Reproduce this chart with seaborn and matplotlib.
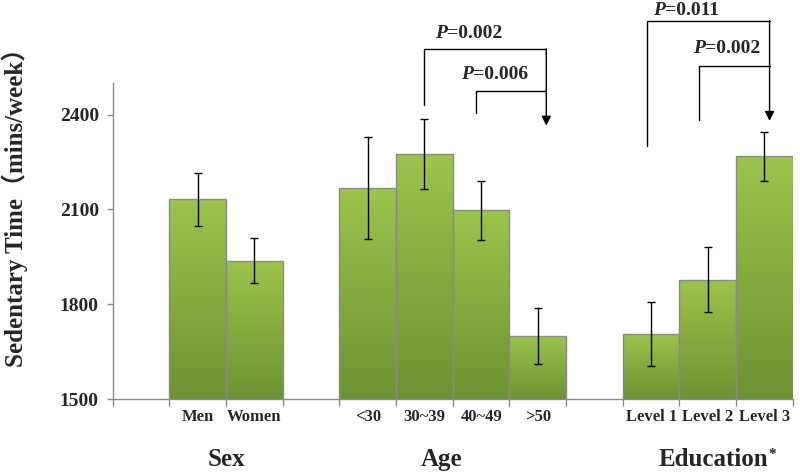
import numpy as np
import pandas as pd
import seaborn as sns
import matplotlib.pyplot as plt
from matplotlib.colors import LinearSegmentedColormap
from matplotlib.transforms import blended_transform_factory

# Bar categories, slot order (blank slots separate the groups)
labels = ['Men', 'Women', '<30', '30~39', '40~49', '>50', 'Level 1', 'Level 2', 'Level 3']
order = [' ', 'Men', 'Women', '  ', '<30', '30~39', '40~49', '>50', '   ', 'Level 1', 'Level 2', 'Level 3']
means = [2132, 1938, 2167, 2275, 2097, 1700, 1706, 1877, 2268]
errors = [83, 72, 162, 110, 94, 88, 102, 103, 78]

groups = ['Sex', 'Age', 'Education']
p_values = ['=0.002', '=0.006', '=0.011', '=0.002']

BAR_TOP = '#9dc44c'
BAR_BOTTOM = '#6d9232'
EDGE = '#8a8a8a'
SERIF = ['Liberation Serif', 'Noto Sans CJK SC', 'DejaVu Serif']

sns.set_style('white')
plt.rcParams['font.family'] = SERIF
plt.rcParams['font.weight'] = 'bold'

df = pd.DataFrame({'label': labels, 'mean': means, 'err': errors})

fig = plt.figure(figsize=(8, 4.74), dpi=100)
ax = fig.add_axes([0.141, 0.158, 0.85, 0.667])

sns.barplot(data=df, x='label', y='mean', order=order, errorbar=None, width=1.0,
            color=BAR_TOP, saturation=1, edgecolor=EDGE, linewidth=1, ax=ax)

# Excel-like vertical gradient on each bar
cmap = LinearSegmentedColormap.from_list('bar', [BAR_BOTTOM, BAR_TOP])
grad = np.linspace(0, 1, 256).reshape(-1, 1)
for patch in ax.patches:
    x0 = patch.get_x()
    x1 = x0 + patch.get_width()
    top = patch.get_height()
    im = ax.imshow(grad, cmap=cmap, origin='lower', aspect='auto',
                   extent=(x0, x1, 1500, top), zorder=1)
    im.set_clip_path(patch)
    patch.set_facecolor('none')
    patch.set_zorder(2)

# Error bars
xpos = [order.index(l) for l in df['label']]
ax.errorbar(xpos, df['mean'], yerr=df['err'], fmt='none', ecolor='black',
            elinewidth=1, capsize=3, capthick=1, zorder=3)

ax.set_xlim(-0.5, len(order) - 0.5)
ax.set_ylim(1500, 2500)
ax.set_yticks([1500, 1800, 2100, 2400])
ax.tick_params(axis='y', labelsize=14, length=4, width=1, color=EDGE, pad=6, left=True)

# ticks between categories, labels at centres
ax.set_xticks(np.arange(-0.5, len(order), 1))
ax.set_xticklabels([])
ax.set_xticks(np.arange(len(order)), minor=True)
ax.set_xticklabels(order, minor=True)
ax.tick_params(axis='x', which='major', length=5, width=1, color=EDGE, bottom=True)
ax.tick_params(axis='x', which='minor', length=0, labelsize=12, pad=7)

for side in ['top', 'right']:
    ax.spines[side].set_visible(False)
for side in ['left', 'bottom']:
    ax.spines[side].set_color(EDGE)
    ax.spines[side].set_linewidth(1)

ax.set_xlabel('')
ax.set_ylabel('')
fig.text(0.018, 0.575, 'Sedentary Time（mins/week）', rotation=90, ha='center', va='center',
         fontsize=18, fontweight='bold', family=SERIF)

# Group names under the category labels
tr = blended_transform_factory(ax.transData, ax.transAxes)
for gx, g in zip([1.5, 5.3, 10.1], groups):
    t = ax.text(gx, -0.19, g, transform=tr, ha='center', va='center', fontsize=18, fontweight='bold')
edu = t
ax.annotate('*', xy=(1, 1), xycoords=edu, ha='left', va='top', fontsize=11, fontweight='bold')

# Significance brackets
def bracket(x_left, y_left, x_right, y_top, y_tip=None):
    ax.plot([x_left, x_left, x_right], [y_left, y_top, y_top], color='black', lw=1, clip_on=False, zorder=4)
    if y_tip is not None:
        ax.annotate('', xy=(x_right, y_tip), xytext=(x_right, y_top + 2),
                    arrowprops=dict(arrowstyle='-|>', color='black', lw=1, mutation_scale=14,
                                    shrinkA=0, shrinkB=0),
                    annotation_clip=False)


def p_label(x, y, value):
    t = ax.text(x, y, 'P', ha='left', va='center', fontsize=14, fontweight='bold',
                fontstyle='italic', clip_on=False)
    ax.annotate(value, xy=(1, 0), xycoords=t, ha='left', va='bottom', fontsize=14,
                fontweight='bold', annotation_clip=False)


bracket(5.0, 2431, 7.15, 2606, 2365)
bracket(5.91, 2406, 7.15, 2476)
bracket(8.93, 2301, 11.09, 2695, 2380)
bracket(9.85, 2384, 11.09, 2553)

p_label(5.19, 2655, p_values[0])
p_label(5.65, 2526, p_values[1])
p_label(9.04, 2728, p_values[2])
p_label(9.74, 2608, p_values[3])

fig.savefig('out.png', dpi=100)
